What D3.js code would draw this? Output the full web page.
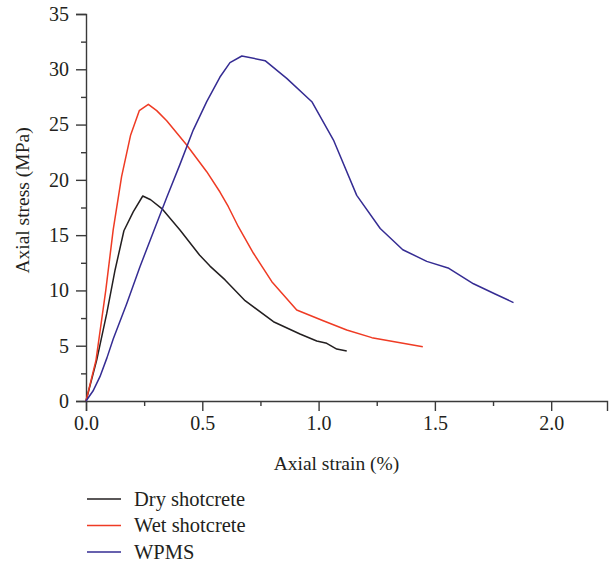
<!DOCTYPE html>
<html>
<head>
<meta charset="utf-8">
<script src="https://cdn.jsdelivr.net/npm/d3@7/dist/d3.min.js"></script>
<style>
  html, body { margin: 0; padding: 0; background: #fff; }
  svg { display: block; }
  text { font-family: "Liberation Serif", "DejaVu Serif", serif; fill: #231f20; }
</style>
</head>
<body>
<svg id="chart" width="610" height="563"></svg>
<script>
// ---------- data ----------
const seriesNames = ["Dry shotcrete", "Wet shotcrete", "WPMS"];
const seriesColors = ["#231f20", "#ef3b24", "#352c93"];

const dryStrain = [0, 0.046, 0.089, 0.125, 0.163, 0.203, 0.244, 0.278, 0.326, 0.404, 0.488, 0.533, 0.598, 0.684, 0.806, 0.92, 0.992, 1.035, 1.078, 1.121];
const dryStress = [0, 3.7, 7.9, 11.85, 15.4, 17.1, 18.54, 18.2, 17.4, 15.47, 13.2, 12.2, 10.95, 9.07, 7.17, 6.06, 5.43, 5.22, 4.7, 4.52];

const wetStrain = [0, 0.043, 0.085, 0.117, 0.153, 0.192, 0.229, 0.268, 0.304, 0.347, 0.433, 0.519, 0.576, 0.612, 0.655, 0.72, 0.799, 0.906, 1.02, 1.121, 1.229, 1.448];
const wetStress = [0, 3.7, 10.0, 15.5, 20.3, 24.06, 26.26, 26.83, 26.26, 25.35, 23.15, 20.74, 18.9, 17.57, 15.76, 13.36, 10.79, 8.23, 7.26, 6.42, 5.73, 4.91];

const wpmsStrain = [0, 0.03, 0.06, 0.09, 0.117, 0.175, 0.232, 0.29, 0.347, 0.404, 0.461, 0.519, 0.576, 0.619, 0.67, 0.77, 0.863, 0.971, 1.064, 1.164, 1.265, 1.362, 1.465, 1.56, 1.666, 1.759, 1.838];
const wpmsStress = [0, 0.9, 2.2, 3.9, 5.6, 8.8, 12.15, 15.3, 18.4, 21.4, 24.5, 27.07, 29.3, 30.6, 31.2, 30.78, 29.18, 27.07, 23.6, 18.6, 15.6, 13.68, 12.63, 12.0, 10.6, 9.68, 8.9];

const xMajorTicks = [0, 0.5, 1.0, 1.5, 2.0];
const xMinorTicks = [0.25, 0.75, 1.25, 1.75];
const yMajorTicks = [0, 5, 10, 15, 20, 25, 30, 35];
const yMinorTicks = [2.5, 7.5, 12.5, 17.5, 22.5, 27.5, 32.5];

const xLabel = "Axial strain (%)";
const yLabel = "Axial stress (MPa)";

// ---------- layout ----------
const svg = d3.select("#chart");
const mLeft = 86, mRight = 607, mTop = 14, mBottom = 401;

const x = d3.scaleLinear().domain([0, 2.24]).range([mLeft, mRight]);
const y = d3.scaleLinear().domain([0, 35]).range([mBottom, mTop]);

const axisColor = "#3a3a3a";
const tickFont = 20;
const labelFont = 19.5;
const legendFont = 20.5;

// X axis
const gx = svg.append("g").attr("transform", `translate(0,${mBottom})`)
  .call(d3.axisBottom(x).tickValues(xMajorTicks).tickSize(10).tickPadding(5)
    .tickFormat(d3.format(".1f")));
gx.select(".domain").attr("stroke", axisColor).attr("stroke-width", 1.4);
gx.selectAll(".tick line").attr("stroke", axisColor).attr("stroke-width", 1.4);
gx.selectAll(".tick text").attr("font-size", tickFont).attr("fill", "#231f20")
  .style("font-family", "'Liberation Serif', serif");

const gxm = svg.append("g").attr("transform", `translate(0,${mBottom})`)
  .call(d3.axisBottom(x).tickValues(xMinorTicks).tickSize(5).tickFormat(""));
gxm.select(".domain").remove();
gxm.selectAll(".tick line").attr("stroke", axisColor).attr("stroke-width", 1.4);

// Y axis
const gy = svg.append("g").attr("transform", `translate(${mLeft},0)`)
  .call(d3.axisLeft(y).tickValues(yMajorTicks).tickSize(10).tickPadding(7)
    .tickFormat(d3.format("d")));
gy.select(".domain").attr("stroke", axisColor).attr("stroke-width", 1.4);
gy.selectAll(".tick line").attr("stroke", axisColor).attr("stroke-width", 1.4);
gy.selectAll(".tick text").attr("font-size", tickFont).attr("fill", "#231f20")
  .style("font-family", "'Liberation Serif', serif");

const gym = svg.append("g").attr("transform", `translate(${mLeft},0)`)
  .call(d3.axisLeft(y).tickValues(yMinorTicks).tickSize(5).tickFormat(""));
gym.select(".domain").remove();
gym.selectAll(".tick line").attr("stroke", axisColor).attr("stroke-width", 1.4);

// Axis labels
svg.append("text").attr("x", (mLeft + mRight) / 2 - 10).attr("y", 470)
  .attr("text-anchor", "middle").attr("font-size", labelFont).text(xLabel);
svg.append("text").attr("transform", `translate(29,${(mTop + mBottom) / 2 - 7}) rotate(-90)`)
  .attr("text-anchor", "middle").attr("font-size", labelFont).text(yLabel);

// ---------- lines ----------
const series = [
  { name: seriesNames[0], color: seriesColors[0], xs: dryStrain, ys: dryStress },
  { name: seriesNames[1], color: seriesColors[1], xs: wetStrain, ys: wetStress },
  { name: seriesNames[2], color: seriesColors[2], xs: wpmsStrain, ys: wpmsStress }
];

const line = d3.line().x(d => x(d[0])).y(d => y(d[1])).curve(d3.curveLinear);

series.forEach(s => {
  const pts = s.xs.map((v, i) => [v, s.ys[i]]);
  svg.append("path").datum(pts)
    .attr("d", line)
    .attr("fill", "none")
    .attr("stroke", s.color)
    .attr("stroke-width", 1.5)
    .attr("stroke-linejoin", "round");
});

// ---------- legend ----------
const legend = svg.append("g");
series.forEach((s, i) => {
  const ly = 499 + i * 26.5;
  legend.append("line").attr("x1", 87).attr("x2", 121).attr("y1", ly).attr("y2", ly)
    .attr("stroke", s.color).attr("stroke-width", 1.5);
  legend.append("text").attr("x", 134).attr("y", ly).attr("dy", "0.33em")
    .attr("font-size", legendFont).text(s.name);
});
</script>
</body>
</html>
